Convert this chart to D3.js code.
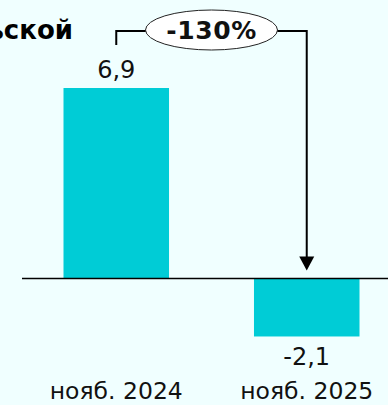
<!DOCTYPE html>
<html>
<head>
<meta charset="utf-8">
<script src="https://cdn.jsdelivr.net/npm/d3@7"></script>
<style>
  html, body { margin: 0; padding: 0; background: #F0FFFF; }
  svg { display: block; }
  text { font-family: "DejaVu Sans", Verdana, sans-serif; }
</style>
</head>
<body>
<div id="chart"></div>
<script>
// Period labels and values
const categories = ["нояб. 2024", "нояб. 2025"];
const values = [6.9, -2.1];
const valueLabels = ["6,9", "-2,1"];
const changeLabel = "-130%";
const titleTail = "ьской";

const W = 388, H = 405;
const barColor = "#00CCD6";

const svg = d3.select("#chart").append("svg")
  .attr("width", W).attr("height", H);

svg.append("rect").attr("width", W).attr("height", H).attr("fill", "#F0FFFF");

const x = d3.scaleBand()
  .domain(categories)
  .range([63.5, 359.5])
  .paddingInner(0.446)
  .paddingOuter(0);

const y = d3.scaleLinear()
  .domain([0, 6.9])
  .range([278.5, 88]);

// Title fragment, running off the left edge
svg.append("text")
  .attr("x", 73).attr("y", 39)
  .attr("text-anchor", "end")
  .attr("font-size", 26).attr("font-weight", "bold")
  .attr("fill", "#000")
  .text(titleTail);

// Bars
svg.selectAll("rect.bar")
  .data(values)
  .join("rect")
  .attr("class", "bar")
  .attr("x", (d, i) => x(categories[i]))
  .attr("width", x.bandwidth())
  .attr("y", d => y(Math.max(0, d)))
  .attr("height", d => Math.abs(y(d) - y(0)))
  .attr("fill", barColor);

// Zero line
svg.append("line")
  .attr("x1", 22).attr("x2", W)
  .attr("y1", y(0)).attr("y2", y(0))
  .attr("stroke", "#000").attr("stroke-width", 1.3);

// Value labels
svg.selectAll("text.val")
  .data(values)
  .join("text")
  .attr("class", "val")
  .attr("x", (d, i) => x(categories[i]) + x.bandwidth() / 2)
  .attr("y", d => d >= 0 ? y(d) - 10 : y(d) + 29)
  .attr("text-anchor", "middle")
  .attr("font-size", 24)
  .attr("fill", "#111")
  .text((d, i) => valueLabels[i]);

// Category labels
svg.selectAll("text.cat")
  .data(categories)
  .join("text")
  .attr("class", "cat")
  .attr("x", d => x(d) + x.bandwidth() / 2)
  .attr("y", 399)
  .attr("text-anchor", "middle")
  .attr("font-size", 23.5)
  .attr("fill", "#111")
  .text(d => d);

// Change bracket with arrow
const cx1 = x(categories[0]) + x.bandwidth() / 2;
const cx2 = x(categories[1]) + x.bandwidth() / 2;
const bracketY = 31;
const tipY = y(0) - 8;

svg.append("path")
  .attr("d", `M${cx1},45 V${bracketY} H${cx2} V${tipY - 13}`)
  .attr("fill", "none")
  .attr("stroke", "#000")
  .attr("stroke-width", 2);

svg.append("path")
  .attr("d", `M${cx2 - 7.5},${tipY - 14} L${cx2 + 7.5},${tipY - 14} L${cx2},${tipY} Z`)
  .attr("fill", "#000");

const ex = (cx1 + cx2) / 2;
svg.append("ellipse")
  .attr("cx", ex).attr("cy", 30)
  .attr("rx", 66).attr("ry", 20)
  .attr("fill", "#fff")
  .attr("stroke", "#222").attr("stroke-width", 1);

svg.append("text")
  .attr("x", ex).attr("y", 38.5)
  .attr("text-anchor", "middle")
  .attr("font-size", 25).attr("font-weight", "bold")
  .attr("letter-spacing", 0.6)
  .attr("fill", "#111")
  .text(changeLabel);
</script>
</body>
</html>
